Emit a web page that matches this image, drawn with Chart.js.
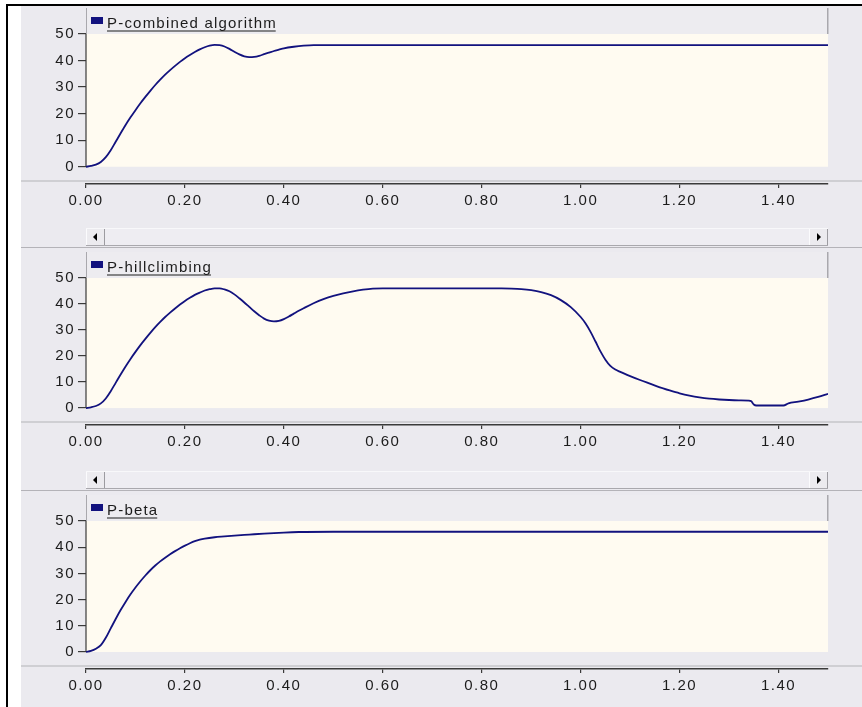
<!DOCTYPE html>
<html><head><meta charset="utf-8">
<script src="https://cdn.jsdelivr.net/npm/chart.js@4.4.1/dist/chart.umd.min.js"></script>
<style>
html,body{margin:0;padding:0;background:#fff;width:862px;height:707px;overflow:hidden;font-family:'Liberation Sans',Arial,sans-serif;}
#frame{position:absolute;left:6px;top:4px;width:870px;height:720px;border-left:2px solid #000;border-top:2px solid #000;}
#bg{position:absolute;left:21px;top:6px;width:841px;height:701px;background:#EBEAEF;}
canvas.cv{position:absolute;left:21px;}
.sep{position:absolute;left:21px;width:841px;height:1px;background:#B4B3B8;}
.sb{position:absolute;left:86px;width:742px;height:18px;background:#EEEDF2;border-top:1px solid #F8F8FA;border-bottom:1px solid #A9A8AD;box-sizing:border-box;}
.btn{position:absolute;top:0;width:19px;height:16px;background:#ECEBEF;border-left:1px solid #FBFBFD;border-right:1px solid #9C9BA0;box-sizing:border-box;}
.btn.l{left:0}.btn.r{right:0}
.tri{position:absolute;top:4px;width:0;height:0;border-top:4px solid transparent;border-bottom:4px solid transparent;}
.btn.l .tri{left:6px;border-right:4px solid #000;}
.btn.r .tri{left:7px;border-left:4px solid #000;}
</style></head>
<body>
<div id="frame"></div>
<div id="bg"></div>
<canvas class="cv" id="c1"></canvas>
<canvas class="cv" id="c2"></canvas>
<canvas class="cv" id="c3"></canvas>
<div class="sb" style="top:228px"><div class="btn l"><div class="tri"></div></div><div class="btn r"><div class="tri"></div></div></div>
<div class="sep" style="top:247px"></div>
<div class="sb" style="top:471px"><div class="btn l"><div class="tri"></div></div><div class="btn r"><div class="tri"></div></div></div>
<div class="sep" style="top:490px"></div>
<script>
// ---- data ----
const xTicks = [0, 0.2, 0.4, 0.6, 0.8, 1.0, 1.2, 1.4];
const yTicks = [0, 10, 20, 30, 40, 50];

const labelCombined = 'P-combined algorithm';
const timeCombined = [0,0.01,0.02,0.03,0.04,0.05,0.06,0.07,0.08,0.09,0.10,0.11,0.12,0.13,0.14,0.15,0.16,0.17,0.18,0.19,0.20,0.21,0.22,0.23,0.24,0.25,0.26,0.27,0.28,0.29,0.30,0.31,0.32,0.33,0.34,0.35,0.36,0.37,0.38,0.39,0.40,0.42,0.44,0.46,1.5];
const pCombined    = [0,0.3,0.8,1.8,3.6,6.2,9.4,12.6,15.7,18.6,21.3,23.9,26.3,28.6,30.8,32.8,34.7,36.4,38.0,39.5,40.9,42.1,43.2,44.2,45.0,45.6,45.9,45.8,45.3,44.4,43.3,42.3,41.6,41.3,41.4,41.8,42.4,43.0,43.6,44.1,44.6,45.2,45.6,45.8,45.8];

const labelHill = 'P-hillclimbing';
const timeHill = [0,0.01,0.02,0.03,0.04,0.05,0.06,0.07,0.08,0.09,0.10,0.11,0.12,0.13,0.14,0.15,0.16,0.17,0.18,0.19,0.20,0.21,0.22,0.23,0.24,0.25,0.26,0.27,0.28,0.29,0.30,0.31,0.32,0.33,0.34,0.35,0.36,0.37,0.38,0.39,0.40,0.41,0.42,0.43,0.44,0.46,0.48,0.50,0.52,0.54,0.56,0.58,0.60,0.84,0.86,0.88,0.90,0.92,0.94,0.96,0.98,1.00,1.01,1.02,1.03,1.04,1.05,1.06,1.07,1.08,1.10,1.12,1.14,1.16,1.18,1.20,1.22,1.24,1.26,1.28,1.30,1.32,1.34,1.345,1.35,1.355,1.41,1.42,1.44,1.46,1.48,1.50];
const pHill    = [0,0.3,0.8,1.8,3.7,6.5,9.7,12.9,16.0,18.9,21.6,24.2,26.6,28.9,31.1,33.1,35.0,36.7,38.3,39.8,41.2,42.4,43.5,44.4,45.2,45.7,46.0,46.0,45.6,44.9,43.7,42.2,40.6,38.9,37.2,35.7,34.4,33.6,33.3,33.5,34.2,35.2,36.3,37.4,38.4,40.3,41.9,43.1,44.1,44.9,45.5,45.9,46.0,46.0,45.9,45.7,45.3,44.6,43.4,41.5,38.8,35.0,32.5,29.3,25.6,21.8,18.6,16.2,14.8,13.9,12.3,10.8,9.4,8.0,6.8,5.7,4.8,4.1,3.6,3.3,3.1,3.0,2.9,2.6,1.4,1.0,1.0,1.8,2.5,3.3,4.3,5.5];

const labelBeta = 'P-beta';
const timeBeta = [0,0.01,0.02,0.03,0.04,0.05,0.06,0.07,0.08,0.09,0.10,0.11,0.12,0.13,0.14,0.15,0.16,0.17,0.18,0.19,0.20,0.21,0.22,0.23,0.24,0.26,0.28,0.30,0.33,0.36,0.40,0.43,0.5,1.5];
const pBeta    = [0,0.4,1.2,2.6,5.4,9.0,12.6,16.0,19.1,22.0,24.6,27.0,29.2,31.2,33.0,34.6,36.0,37.3,38.5,39.6,40.6,41.5,42.3,42.9,43.3,43.8,44.1,44.4,44.8,45.2,45.6,45.8,45.9,45.9];

// ---- styling ----
const LINE = '#12127E';
const TXT = '#1c1c1c';
const AX = '#3a3a3a';
const FONT = {family:"'Liberation Sans', Arial, sans-serif", size:15};
const TICK_SPACING = '1.5px';

const panelPlugin = {
  id: 'panel',
  beforeInit(chart){ chart.ctx.letterSpacing = TICK_SPACING; },
  beforeUpdate(chart){ chart.ctx.letterSpacing = TICK_SPACING; },
  beforeDraw(chart, args, opts){
    const ctx = chart.ctx, a = chart.chartArea, y = chart.scales.y;
    ctx.save();
    ctx.fillStyle = '#B4B3B8';
    ctx.fillRect(0, a.bottom - 3.5, chart.width, 1);
    const y0 = y.getPixelForValue(0);
    ctx.fillStyle = '#FFFBF1';
    ctx.fillRect(a.left, a.top, a.right - a.left, y0 - a.top);
    const lt = a.top - 26;
    ctx.fillStyle = '#EDECF0';
    ctx.fillRect(a.left, lt, a.right - a.left, 26);
    ctx.fillStyle = '#A9A8AD';
    ctx.fillRect(a.left, lt, 1, 26);
    ctx.fillRect(a.right - 1, lt, 1.5, 26);
    ctx.fillStyle = LINE;
    ctx.fillRect(a.left + 5, a.top - 17, 12, 7);
    ctx.letterSpacing = '1.2px';
    ctx.font = "15px 'Liberation Sans', Arial, sans-serif";
    ctx.fillStyle = TXT;
    ctx.textAlign = 'left';
    ctx.textBaseline = 'alphabetic';
    ctx.fillText(opts.label, a.left + 21, a.top - 6);
    const w = ctx.measureText(opts.label).width - 1.2;
    ctx.fillRect(a.left + 21, a.top - 3.5, w, 1);
    ctx.restore();
    ctx.letterSpacing = TICK_SPACING;
  },
  beforeDatasetsDraw(chart){
    const ctx = chart.ctx, a = chart.chartArea, y = chart.scales.y;
    ctx.save();
    ctx.strokeStyle = AX;
    ctx.lineWidth = 1.2;
    ctx.beginPath();
    ctx.moveTo(a.left, y.getPixelForValue(50));
    ctx.lineTo(a.left, y.getPixelForValue(0));
    ctx.stroke();
    ctx.restore();
  }
};

function makeChart(id, top, h, times, values, label){
  const cv = document.getElementById(id);
  const H = 28 + h + 30;
  cv.width = 841; cv.height = H;
  cv.style.width = '841px'; cv.style.height = H + 'px';
  cv.style.top = (top - 28) + 'px';
  return new Chart(cv, {
    type: 'line',
    data: { datasets: [{
      label: label,
      data: times.map((t, i) => ({x: t, y: values[i]})),
      borderColor: LINE, borderWidth: 1.8, pointRadius: 0,
      cubicInterpolationMode: 'monotone', fill: false
    }]},
    options: {
      responsive: false, animation: false, devicePixelRatio: 1,
      layout: {padding: {left: 0, right: 34, top: 28, bottom: 0}},
      plugins: {legend: {display: false}, tooltip: {enabled: false}, panel: {label: label}},
      scales: {
        x: {
          type: 'linear', min: 0, max: 1.5,
          afterBuildTicks(s){ s.ticks = xTicks.map(v => ({value: v})); },
          afterFit(s){ s.height = 30; },
          ticks: {font: FONT, color: TXT, padding: 4, maxRotation: 0, autoSkip: false, callback: v => Number(v).toFixed(2)},
          grid: {drawOnChartArea: false, drawTicks: true, tickLength: 4, color: AX, lineWidth: 1.2},
          border: {display: true, color: AX, width: 1.5}
        },
        y: {
          min: -6.5, max: 50,
          afterBuildTicks(s){ s.ticks = yTicks.map(v => ({value: v})); },
          afterFit(s){ s.width = 65; },
          ticks: {font: FONT, color: TXT, padding: 3, callback: v => String(v)},
          grid: {drawOnChartArea: false, drawTicks: true, tickLength: 8, color: AX, lineWidth: 1.2},
          border: {display: false}
        }
      }
    },
    plugins: [panelPlugin]
  });
}

makeChart('c1', 34.3, 150, timeCombined, pCombined, labelCombined);
makeChart('c2', 278, 147, timeHill, pHill, labelHill);
makeChart('c3', 520.5, 148, timeBeta, pBeta, labelBeta);
</script>
</body></html>
